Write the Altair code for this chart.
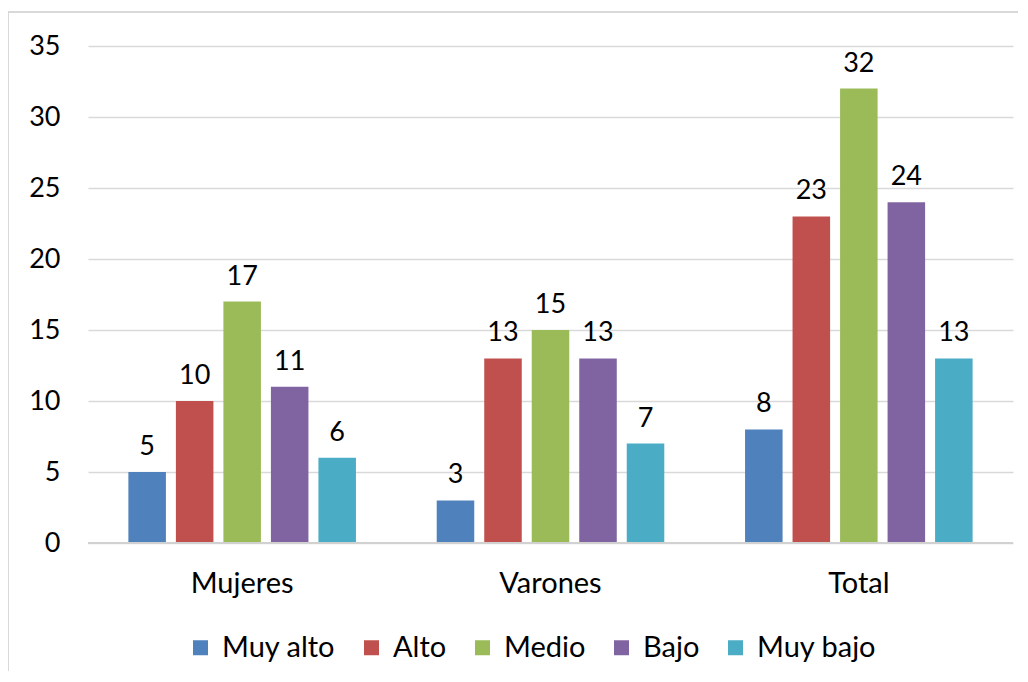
import altair as alt
import pandas as pd

groups = ["Mujeres", "Varones", "Total"]
series = ["Muy alto", "Alto", "Medio", "Bajo", "Muy bajo"]
colors = ["#4F81BD", "#C0504D", "#9BBB59", "#8064A2", "#4BACC6"]
values = {
    "Muy alto": [5, 3, 8],
    "Alto": [10, 13, 23],
    "Medio": [17, 15, 32],
    "Bajo": [11, 13, 24],
    "Muy bajo": [6, 7, 13],
}

rows = []
for s in series:
    for g, v in zip(groups, values[s]):
        rows.append({"grupo": g, "nivel": s, "valor": v})
df = pd.DataFrame(rows)

FONT = "Lato"
FS_NUM = 27
FS_TXT = 29

x = alt.X("grupo:N", sort=groups, title=None,
          scale=alt.Scale(paddingInner=0, paddingOuter=0),
          axis=alt.Axis(labelAngle=0, ticks=False, domain=False, labelPadding=26,
                        labelFontSize=FS_TXT, labelFont=FONT, labelColor="#000000"))
xo = alt.XOffset("nivel:N", sort=series,
                 scale=alt.Scale(paddingInner=0.21, paddingOuter=0.85))
y = alt.Y("valor:Q", title=None,
          scale=alt.Scale(domain=[0, 35]),
          axis=alt.Axis(values=[0, 5, 10, 15, 20, 25, 30, 35], ticks=False, domain=False,
                        labelPadding=28, labelFontSize=FS_NUM, labelFont=FONT,
                        labelColor="#000000", gridColor="#d9d9d9", gridWidth=1.5))

bars = alt.Chart(df).mark_bar().encode(
    x=x, xOffset=xo, y=y,
    color=alt.Color("nivel:N", sort=series,
                    scale=alt.Scale(domain=series, range=colors),
                    legend=alt.Legend(title=None, orient="none", direction="horizontal",
                                      legendX=98, legendY=587, symbolType="square",
                                      symbolSize=225, symbolStrokeWidth=0,
                                      labelFontSize=FS_TXT, labelFont=FONT,
                                      labelColor="#000000", columnPadding=21,
                                      symbolOffset=0, labelOffset=7)),
)

labels = alt.Chart(df).mark_text(baseline="bottom", dy=-11, fontSize=FS_NUM, font=FONT,
                                 color="#000000").encode(
    x=alt.X("grupo:N", sort=groups), xOffset=alt.XOffset("nivel:N", sort=series),
    y="valor:Q", text="valor:Q")

baseline = alt.Chart(df).mark_rule(color="#d0d0d0", strokeWidth=1.5).encode(
    y=alt.datum(0))

border = alt.Chart(df).mark_rect(fill=None, stroke="#d9d9d9", strokeWidth=1.5,
                                 clip=False).encode(
    x=alt.value(-80), x2=alt.value(1100), y=alt.value(-34), y2=alt.value(700))

chart = alt.layer(border, bars, labels, baseline).properties(
    width=925, height=497,
    autosize=alt.AutoSizeParams(type="none"),
    padding={"left": 80, "top": 38, "right": 5, "bottom": 128},
).configure(background="#ffffff").configure_view(stroke=None)

chart.save("out.html", embed_options={"renderer": "svg", "actions": False})
